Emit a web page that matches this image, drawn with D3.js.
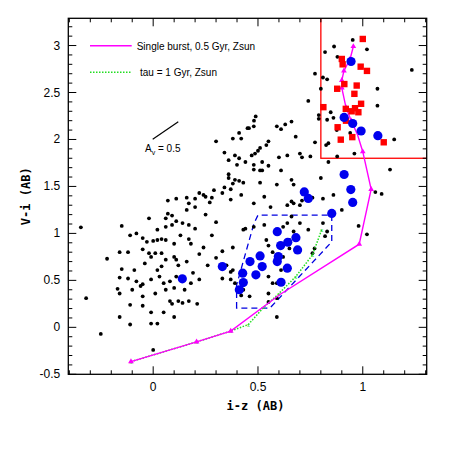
<!DOCTYPE html>
<html><head><meta charset="utf-8">
<script src="https://cdn.jsdelivr.net/npm/d3@7"></script>
<style>body{margin:0;background:#fff}</style>
</head><body><svg id="c" width="463" height="463"></svg>
<script>
// field galaxies (black dots)
const fieldPts = [
  [0.952,3.06],[0.863,2.99],[0.82,2.93],[1.02,2.96],[0.879,2.88],[1.234,2.74],[0.772,2.70],[0.81,2.66],[0.83,2.64],[0.80,2.54],
  [1.07,2.54],[0.74,2.41],[1.07,2.36],[0.847,2.29],[0.79,2.22],[0.86,2.23],[0.83,2.21],[0.79,2.26],[0.876,2.10],[0.94,2.07],
  [1.15,2.00],[0.772,1.97],[0.825,1.94],[0.836,1.96],[0.96,1.85],[0.878,1.82],[0.836,1.76],[1.13,1.68],[0.80,1.59],[1.06,1.44],
  [0.489,2.245],[0.481,2.20],[0.457,2.12],[0.45,2.12],[0.48,2.14],[0.66,2.19],[0.63,2.16],[0.59,2.14],[0.61,2.11],[0.68,2.03],
  [0.41,2.07],[0.38,2.01],[0.42,2.01],[0.30,1.98],[0.55,1.98],[0.54,1.94],[0.51,1.91],[0.50,1.88],[0.486,1.85],[0.47,1.83],
  [0.34,1.86],[0.39,1.83],[0.41,1.80],[0.36,1.78],[0.60,1.81],[0.64,1.83],[0.70,1.85],[0.71,1.81],[0.75,1.82],[0.40,1.73],
  [0.44,1.76],[0.52,1.76],[0.48,1.73],[0.48,1.68],[0.51,1.67],[0.52,1.67],[0.55,1.72],[0.61,1.67],[0.36,1.63],[0.36,1.59],
  [0.39,1.57],[0.41,1.56],[0.38,1.53],[0.43,1.54],[0.51,1.54],[0.59,1.52],[0.66,1.57],[0.67,1.52],[0.29,1.46],[0.34,1.49],
  [0.37,1.47],[0.16,1.38],[0.20,1.37],[0.24,1.41],[0.28,1.38],[0.33,1.43],[0.37,1.36],[0.42,1.41],[0.53,1.39],[0.71,1.35],
  [0.66,1.34],[-0.345,1.065],[0.07,1.35],[0.11,1.37],[0.17,1.32],[0.22,1.43],[0.25,1.39],[0.27,1.33],[0.2,1.28],[0.16,1.25],
  [0.07,1.21],[0.06,1.16],[-0.02,1.16],[0.09,1.19],[0.11,1.13],[0.14,1.11],[0.17,1.09],[0.20,1.05],[0.09,1.09],[0.06,1.07],
  [0.02,1.04],[0.0,0.92],[0.02,0.93],[0.04,0.94],[0.06,0.93],[0.1,0.89],[0.17,0.94],[0.18,0.89],[-0.05,0.95],[-0.08,1.0],
  [-0.11,0.98],[-0.03,0.91],[-0.05,0.83],[-0.02,0.79],[0.01,0.79],[0.04,0.79],[0.06,0.72],[0.1,0.75],[0.11,0.72],[0.16,0.70],
  [0.12,0.66],[-0.04,0.68],[-0.01,0.75],[-0.12,0.80],[-0.16,0.80],[-0.22,0.73],[-0.15,0.62],[-0.09,0.61],[-0.12,0.52],[-0.16,0.53],
  [-0.17,0.41],[-0.16,0.36],[-0.1,0.40],[-0.08,0.49],[-0.05,0.46],[-0.06,0.44],[-0.01,0.51],[0.02,0.61],[0.03,0.54],[0.05,0.47],
  [0.08,0.49],[0.06,0.40],[0.01,0.36],[-0.05,0.33],[-0.11,0.24],[-0.05,0.23],[0.08,0.28],[0.09,0.25],[0.12,0.28],[0.14,0.26],
  [0.17,0.28],[0.21,0.25],[0.1,0.42],[0.15,0.40],[0.18,0.47],[0.11,0.54],[0.19,0.58],[0.22,0.51],[0.04,0.65],[-0.01,0.16],
  [-0.11,0.03],[-0.16,0.11],[-0.01,0.04],[0.02,0.04],[0.1,0.11],[0.05,0.16],[-0.25,-0.07],[-0.32,0.31],[0.0,-0.24],[-0.15,1.08],
  [0.33,0.81],[0.35,0.66],[0.38,0.85],[0.38,0.61],[0.33,0.52],[0.37,0.51],[0.39,0.47],[0.43,0.40],[0.46,0.33],[0.42,0.34],
  [0.37,0.59],[0.43,1.04],[0.44,1.05],[0.48,1.07],[0.48,1.32],[0.56,1.28],[0.53,1.09],[0.54,0.93],[0.55,0.87],[0.57,0.80],
  [0.55,0.54],[0.57,0.47],[0.55,0.36],[0.59,0.31],[0.59,0.11],[0.55,0.27],[0.62,1.07],[0.64,1.11],[0.66,1.18],[0.64,1.3],
  [0.67,1.32],[0.70,1.30],[0.76,1.38],[0.81,1.37],[0.65,0.93],[0.67,1.02],[0.70,1.11],[0.74,1.04],[0.81,1.11],[0.83,1.02],
  [0.82,0.97],[0.77,0.84],[0.76,0.79],[0.62,0.75],[0.61,0.61],[0.59,0.47],[0.65,0.84],[0.86,1.41],[0.90,1.25],[0.98,1.08],
  [1.02,0.99],[1.09,1.42],[0.25,1.2],[0.3,1.12],[0.28,0.98],[0.24,0.85],[0.3,0.74],[0.26,0.66],[0.22,0.78],[0.13,0.98]
];
// blue circles
const bluePts = [
  [0.944,2.83],[0.911,2.235],[0.952,2.17],[0.992,2.09],[1.072,2.04],[0.911,1.627],[0.943,1.467],[0.952,1.33],[0.721,1.442],[0.74,1.372],
  [0.852,1.213],[0.592,1.018],[0.681,0.954],[0.642,0.906],[0.608,0.87],[0.689,0.824],[0.51,0.76],[0.462,0.70],[0.592,0.70],[0.597,0.753],
  [0.52,0.647],[0.64,0.63],[0.33,0.647],[0.427,0.577],[0.49,0.559],[0.61,0.48],[0.43,0.477],[0.411,0.40],[0.139,0.516]
];
// red squares
const redPts = [
  [1.0,3.07],[0.9,2.857],[0.904,2.80],[0.99,2.775],[1.02,2.73],[0.912,2.59],[0.971,2.574],[0.878,2.54],[0.96,2.486],[0.812,2.344],
  [0.919,2.326],[0.963,2.333],[0.947,2.30],[0.992,2.38],[0.979,2.29],[0.92,2.20],[0.88,2.13],[0.95,2.025],[0.895,1.998],[1.1,1.97]
];
// single burst track
const burstTrack = [
  [-0.106,-0.365],[0.207,-0.155],[0.37,-0.04],[0.605,0.35],[0.983,0.885],[1.04,1.47],[1.0,1.87],[0.975,2.05],[0.945,2.2],
  [0.92,2.34],[0.9,2.55],[0.9,2.63],[0.91,2.73],[0.94,2.86],[0.955,2.99]
];
const burstMarks = [0,1,2,4,5,6,8,9,10,11,12,13,14];
// tau = 1 Gyr track
const tauTrack = [
  [-0.106,-0.365],[0.207,-0.155],[0.37,-0.04],[0.454,0.03],[0.53,0.22],[0.6,0.36],[0.68,0.54],[0.76,0.77],[0.804,1.04]
];
const blueBox = [[0.398,0.205],[0.398,0.45],[0.48,1.1],[0.5,1.195],[0.852,1.195],[0.852,0.91],[0.557,0.205]];
const redBox = {x0:0.8, y0:1.8};
const xTicks = [0, 0.5, 1];
const yTicks = [-0.5, 0, 0.5, 1, 1.5, 2, 2.5, 3];

const svg = d3.select("#c");
const L = 68.3, R = 426.7, T = 18.3, B = 374.3;
const x = d3.scaleLinear().domain([-0.405, 1.305]).range([L, R]);
const y = d3.scaleLinear().domain([-0.5, 3.29]).range([B, T]);

const clip = svg.append("clipPath").attr("id","cp").append("rect")
  .attr("x",L).attr("y",T).attr("width",R-L).attr("height",B-T);
const g = svg.append("g").attr("clip-path","url(#cp)");

// red box
g.append("rect").attr("x",x(redBox.x0)).attr("y",T-5)
  .attr("width",R-x(redBox.x0)+5).attr("height",y(redBox.y0)-T+5)
  .attr("fill","none").attr("stroke","#f00").attr("stroke-width",1.3);

// blue dashed box
g.append("path").attr("d", d3.line().x(d=>x(d[0])).y(d=>y(d[1]))(blueBox)+"Z")
  .attr("fill","none").attr("stroke","#0000e0").attr("stroke-width",1.3).attr("stroke-dasharray","6,4");

g.selectAll(".f").data(fieldPts).join("circle")
  .attr("cx",d=>x(d[0])).attr("cy",d=>y(d[1])).attr("r",1.9).attr("fill","#000");

const line = d3.line().x(d=>x(d[0])).y(d=>y(d[1]));
g.append("path").attr("d",line(tauTrack)).attr("fill","none")
  .attr("stroke","#22dd22").attr("stroke-width",1.5).attr("stroke-dasharray","1.5,1.5");
g.selectAll(".tm").data(tauTrack).join("text")
  .attr("x",d=>x(d[0])).attr("y",d=>y(d[1])+2).attr("text-anchor","middle")
  .attr("font-size",6).attr("fill","#22dd22").text("x");

g.append("path").attr("d",line(burstTrack)).attr("fill","none")
  .attr("stroke","#ff00ff").attr("stroke-width",1.4);
g.selectAll(".bm").data(burstMarks.map(i=>burstTrack[i])).join("path")
  .attr("transform",d=>`translate(${x(d[0])},${y(d[1])})`)
  .attr("d",d3.symbol(d3.symbolTriangle,14)).attr("fill","#ff00ff");

g.selectAll(".r").data(redPts).join("rect")
  .attr("x",d=>x(d[0])-3.2).attr("y",d=>y(d[1])-3.2).attr("width",6.4).attr("height",6.4).attr("fill","#f00");
g.selectAll(".b").data(bluePts).join("circle")
  .attr("cx",d=>x(d[0])).attr("cy",d=>y(d[1])).attr("r",4.6).attr("fill","#0000ee");

// frame and ticks
svg.append("rect").attr("x",L).attr("y",T).attr("width",R-L).attr("height",B-T)
  .attr("fill","none").attr("stroke","#000").attr("stroke-width",1.3);
const tk = svg.append("g").attr("stroke","#000").attr("stroke-width",1);
d3.range(-0.4, 1.31, 0.1).forEach(v=>{
  const major = Math.abs(v*2-Math.round(v*2))<1e-6, len = major?8:4, px=x(v);
  tk.append("line").attr("x1",px).attr("x2",px).attr("y1",B).attr("y2",B-len);
  tk.append("line").attr("x1",px).attr("x2",px).attr("y1",T).attr("y2",T+len);
});
d3.range(-0.5, 3.29, 0.1).forEach(v=>{
  const major = Math.abs(v*2-Math.round(v*2))<1e-6, len = major?8:4, py=y(v);
  tk.append("line").attr("x1",L).attr("x2",L+len).attr("y1",py).attr("y2",py);
  tk.append("line").attr("x1",R).attr("x2",R-len).attr("y1",py).attr("y2",py);
});
const font = "Liberation Sans, Arial, sans-serif";
svg.selectAll(".xl").data(xTicks).join("text").attr("x",d=>x(d)).attr("y",B+17)
  .attr("text-anchor","middle").attr("font-family",font).attr("font-size",12).text(d=>d);
svg.selectAll(".yl").data(yTicks).join("text").attr("x",L-8).attr("y",d=>y(d)+4)
  .attr("text-anchor","end").attr("font-family",font).attr("font-size",12).text(d=>d);
const mono = "DejaVu Sans Mono, monospace";
svg.append("text").attr("x",(L+R)/2+8).attr("y",B+36).attr("text-anchor","middle")
  .attr("font-family",mono).attr("font-weight","bold").attr("font-size",12).text("i-z (AB)");
svg.append("text").attr("transform",`translate(${L-38},${(T+B)/2}) rotate(-90)`).attr("text-anchor","middle")
  .attr("font-family",mono).attr("font-weight","bold").attr("font-size",12).text("V-i (AB)");

// legend
svg.append("line").attr("x1",90).attr("x2",131.7).attr("y1",45.7).attr("y2",45.7).attr("stroke","#ff00ff").attr("stroke-width",1.4);
svg.append("text").attr("x",136.7).attr("y",49.5).attr("font-family",font).attr("font-size",10).text("Single burst, 0.5 Gyr, Zsun");
svg.append("line").attr("x1",90).attr("x2",131.7).attr("y1",72.3).attr("y2",72.3).attr("stroke","#22dd22").attr("stroke-width",1.5).attr("stroke-dasharray","1.5,1.5");
svg.append("text").attr("x",140).attr("y",76).attr("font-family",font).attr("font-size",10).text("tau = 1 Gyr, Zsun");

// extinction vector
svg.append("line").attr("x1",152.7).attr("y1",139.3).attr("x2",178.3).attr("y2",121.7).attr("stroke","#000").attr("stroke-width",1.2);
const av = svg.append("text").attr("x",145).attr("y",152).attr("font-family",font).attr("font-size",10);
av.append("tspan").text("A");
av.append("tspan").attr("font-size",7).attr("dy",3).text("v");
av.append("tspan").attr("dy",-3).text(" = 0.5");
</script></body></html>
